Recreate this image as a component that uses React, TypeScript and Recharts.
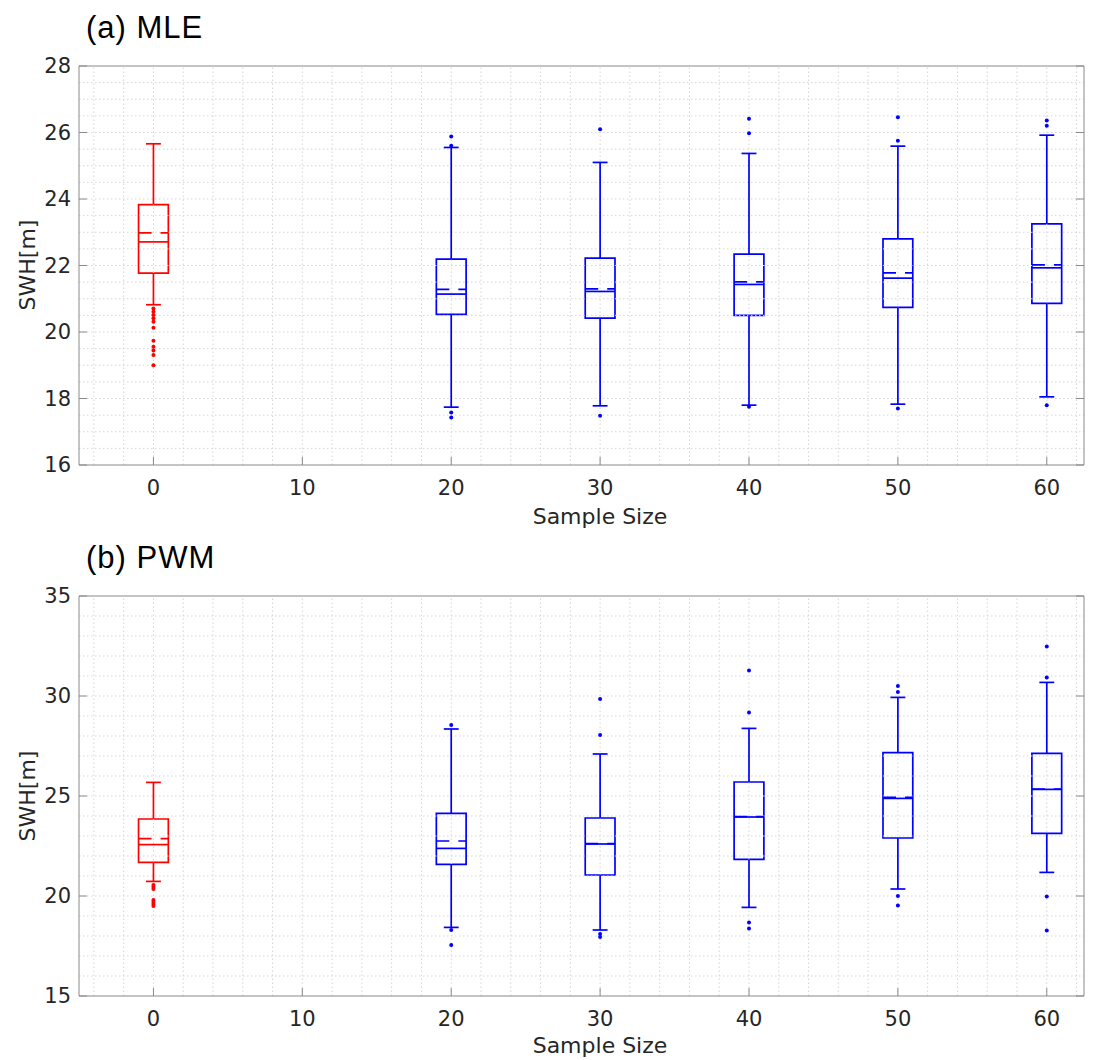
import React from "react";
import { ScatterChart, Scatter, XAxis, YAxis, ReferenceLine, ReferenceArea } from "recharts";

// box positions (sample size) and x axis ticks
const positions = [0, 20, 30, 40, 50, 60];
const xTicks = [0, 10, 20, 30, 40, 50, 60];

// (a) MLE box statistics
const mleUpper = [25.66, 25.55, 25.1, 25.37, 25.59, 25.92];
const mleQ3 = [23.83, 22.19, 22.22, 22.34, 22.8, 23.25];
const mleMean = [22.98, 21.28, 21.3, 21.51, 21.78, 22.02];
const mleMedian = [22.71, 21.14, 21.22, 21.43, 21.62, 21.93];
const mleQ1 = [21.77, 20.53, 20.42, 20.5, 20.74, 20.86];
const mleLower = [20.82, 17.74, 17.78, 17.8, 17.83, 18.05];
const mleOutliers = [
  [20.71, 20.61, 20.51, 20.41, 20.31, 20.13, 19.74, 19.56, 19.44, 19.31, 19.0],
  [25.88, 25.6, 17.58, 17.43],
  [26.1, 17.48],
  [26.41, 25.98, 17.75],
  [26.46, 25.75, 17.7],
  [26.36, 26.2, 17.8],
];
const mleYTicks = [16, 18, 20, 22, 24, 26, 28];

// (b) PWM box statistics
const pwmUpper = [25.68, 28.35, 27.1, 28.38, 29.93, 30.68];
const pwmQ3 = [23.85, 24.13, 23.9, 25.7, 27.17, 27.13];
const pwmMean = [22.87, 22.75, 22.62, 23.97, 24.93, 25.35];
const pwmMedian = [22.57, 22.38, 22.6, 23.95, 24.88, 25.33];
const pwmQ1 = [21.68, 21.58, 21.05, 21.83, 22.9, 23.13];
const pwmLower = [20.73, 18.43, 18.3, 19.43, 20.35, 21.18];
const pwmOutliers = [
  [20.55, 20.45, 20.35, 19.8, 19.7, 19.6, 19.5],
  [28.55, 18.3, 17.55],
  [29.85, 28.05, 18.1, 17.95],
  [31.27, 29.17, 18.67, 18.37],
  [30.5, 30.2, 20.0, 19.52],
  [32.47, 30.92, 19.97, 18.27],
];
const pwmYTicks = [15, 20, 25, 30, 35];

const RED = "#ff0000";
const BLUE = "#0000ff";
const AXIS = "#8a8a8a";
const GRID = "#d6d6d6";
const TEXT = "#262626";
const LW = 1.7;
const X_DOMAIN = [-5, 62.5];

function range(a: number, b: number, step: number) {
  const out: number[] = [];
  for (let v = a; v <= b + 1e-9; v += step) out.push(Math.round(v * 100) / 100);
  return out;
}

const vGrid = range(-4, 62, 2);

type Stats = {
  upper: number[];
  q3: number[];
  mean: number[];
  median: number[];
  q1: number[];
  lower: number[];
  outliers: number[][];
};

function Panel({
  stats,
  yDomain,
  yTicks,
  hGrid,
  marginBottom,
}: {
  stats: Stats;
  yDomain: number[];
  yTicks: number[];
  hGrid: number[];
  marginBottom: number;
}) {
  const tickStyle = { fill: TEXT, fontSize: 21, fontFamily: "DejaVu Sans" };
  const redPts = stats.outliers[0].map((y) => ({ x: positions[0], y }));
  const bluePts = positions
    .slice(1)
    .flatMap((p, i) => stats.outliers[i + 1].map((y) => ({ x: p, y })));

  const els: React.ReactNode[] = [];
  positions.forEach((p, i) => {
    const c = i === 0 ? RED : BLUE;
    const seg = (k: string, x1: number, y1: number, x2: number, y2: number, dash?: string) =>
      els.push(
        <ReferenceLine
          key={k + i}
          segment={[
            { x: x1, y: y1 },
            { x: x2, y: y2 },
          ]}
          stroke={c}
          strokeWidth={LW}
          strokeDasharray={dash}
        />
      );
    seg("wu", p, stats.q3[i], p, stats.upper[i]);
    seg("wl", p, stats.lower[i], p, stats.q1[i]);
    seg("cu", p - 0.5, stats.upper[i], p + 0.5, stats.upper[i]);
    seg("cl", p - 0.5, stats.lower[i], p + 0.5, stats.lower[i]);
    seg("md", p - 1, stats.median[i], p + 1, stats.median[i]);
    seg("mn", p - 1, stats.mean[i], p + 1, stats.mean[i], "13 9");
    els.push(
      <ReferenceArea
        key={"box" + i}
        x1={p - 1}
        x2={p + 1}
        y1={stats.q1[i]}
        y2={stats.q3[i]}
        fill="none"
        fillOpacity={0}
        stroke={c}
        strokeWidth={LW}
      />
    );
  });

  return (
    <ScatterChart
      width={1107}
      height={530}
      margin={{ top: 65, right: 22, bottom: marginBottom, left: 0 }}
    >
      <XAxis
        type="number"
        dataKey="x"
        domain={X_DOMAIN}
        ticks={xTicks}
        allowDataOverflow
        height={50}
        tickSize={-8}
        tickMargin={23}
        stroke={AXIS}
        tick={tickStyle}
      />
      <XAxis
        xAxisId="top"
        orientation="top"
        type="number"
        domain={X_DOMAIN}
        ticks={xTicks}
        allowDataOverflow
        height={1}
        tickSize={-8}
        tickFormatter={() => ""}
        stroke={AXIS}
      />
      <YAxis
        type="number"
        dataKey="y"
        domain={yDomain}
        ticks={yTicks}
        allowDataOverflow
        width={79}
        tickSize={-8}
        tickMargin={16}
        stroke={AXIS}
        tick={tickStyle}
      />
      <YAxis
        yAxisId="right"
        orientation="right"
        type="number"
        domain={yDomain}
        ticks={yTicks}
        allowDataOverflow
        width={1}
        tickSize={-8}
        tickFormatter={() => ""}
        stroke={AXIS}
      />
      {hGrid.map((v) => (
        <ReferenceLine key={"h" + v} y={v} stroke={GRID} strokeDasharray="1.5 2.5" />
      ))}
      {vGrid.map((v) => (
        <ReferenceLine key={"v" + v} x={v} stroke={GRID} strokeDasharray="1.5 2.5" />
      ))}
      {els}
      <Scatter
        data={redPts}
        isAnimationActive={false}
        shape={(props: any) => <circle cx={props.cx} cy={props.cy} r={2} fill={RED} />}
      />
      <Scatter
        data={bluePts}
        isAnimationActive={false}
        shape={(props: any) => <circle cx={props.cx} cy={props.cy} r={2} fill={BLUE} />}
      />
    </ScatterChart>
  );
}

const abs = (x: number, y: number, extra: React.CSSProperties = {}): React.CSSProperties => ({
  position: "absolute",
  left: x,
  top: y,
  whiteSpace: "nowrap",
  lineHeight: 1,
  ...extra,
});

export default function App() {
  const mle: Stats = {
    upper: mleUpper,
    q3: mleQ3,
    mean: mleMean,
    median: mleMedian,
    q1: mleQ1,
    lower: mleLower,
    outliers: mleOutliers,
  };
  const pwm: Stats = {
    upper: pwmUpper,
    q3: pwmQ3,
    mean: pwmMean,
    median: pwmMedian,
    q1: pwmQ1,
    lower: pwmLower,
    outliers: pwmOutliers,
  };
  const titleStyle = {
    fontFamily: "Liberation Sans",
    fontSize: 31,
    letterSpacing: 1,
    color: "#000",
  };
  const labelStyle = {
    fontFamily: "DejaVu Sans",
    fontSize: 22,
    color: TEXT,
    transform: "translate(-50%, -50%)",
  };
  const yLabelStyle = { ...labelStyle, transform: "translate(-50%, -50%) rotate(-90deg)" };

  return (
    <div
      style={{
        position: "absolute",
        left: 0,
        top: 0,
        width: 1107,
        height: 1060,
        background: "#fff",
        overflow: "hidden",
      }}
    >
      <div style={abs(0, 0)}>
        <Panel
          stats={mle}
          yDomain={[16, 28]}
          yTicks={mleYTicks}
          hGrid={range(16.5, 27.5, 0.5)}
          marginBottom={15}
        />
      </div>
      <div style={abs(0, 530)}>
        <Panel
          stats={pwm}
          yDomain={[15, 35]}
          yTicks={pwmYTicks}
          hGrid={range(16, 34, 1)}
          marginBottom={14}
        />
      </div>
      <div style={abs(86, 12, titleStyle)}>(a) MLE</div>
      <div style={abs(86, 542, titleStyle)}>(b) PWM</div>
      <div style={abs(600, 517, labelStyle)}>Sample Size</div>
      <div style={abs(600, 1046, labelStyle)}>Sample Size</div>
      <div style={abs(28, 265, yLabelStyle)}>SWH[m]</div>
      <div style={abs(28, 796, yLabelStyle)}>SWH[m]</div>
    </div>
  );
}
